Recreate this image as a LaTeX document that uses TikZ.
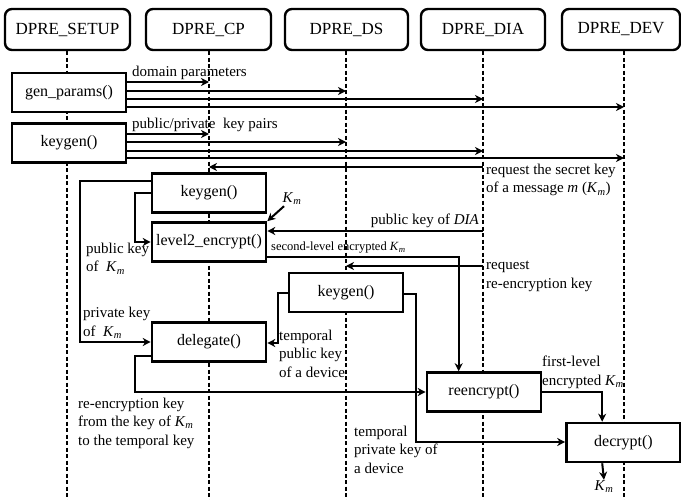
\documentclass[tikz,border=0pt]{standalone}
\usepackage{fontspec}
\setmainfont{Liberation Serif}
\usetikzlibrary{arrows.meta,calc}
\newcommand{\Km}{\textit{K}\textsubscript{\textit{m}}}
\newcommand{\hdrfont}{\fontsize{17}{20}\selectfont}
\newcommand{\boxfont}{\fontsize{16}{19}\selectfont}
\newcommand{\lblfont}{\fontsize{15}{18.2}\selectfont}
\newcommand{\smlfont}{\fontsize{12.5}{15}\selectfont}
\begin{document}
\begin{tikzpicture}[x=1pt,y=-1pt,
 hdr/.style={draw,line width=2.4pt,rounded corners=7pt,minimum height=41pt,inner sep=0pt,fill=white,font=\hdrfont},
 fbox/.style={draw,line width=2.6pt,fill=white,minimum width=114pt,minimum height=39pt,inner sep=0pt,font=\boxfont},
 life/.style={line width=1.4pt,dash pattern=on 4pt off 2.5pt},
 arr/.style={line width=2pt,-{Stealth[length=8pt,width=8pt,inset=2.5pt]}},
 lbl/.style={inner sep=0pt,font=\lblfont,align=left},
]
\useasboundingbox (0,0) rectangle (681,500);
% headers
\node[hdr,minimum width=125pt] (setup) at (67.5,29.5) {DPRE\_SETUP};
\node[hdr,minimum width=125pt] (cp) at (208.5,29.5) {DPRE\_CP};
\node[hdr,minimum width=123pt] (ds) at (346.5,29.5) {DPRE\_DS};
\node[hdr,minimum width=124pt] (dia) at (483,29.5) {DPRE\_DIA};
\node[hdr,minimum width=118pt] (dev) at (621,29.5) {DPRE\_DEV};
% lifelines
\coordinate (lsetup) at (67,500);
\coordinate (lcp) at (209,500);
\coordinate (lds) at (346,500);
\coordinate (ldia) at (483,500);
\coordinate (ldev) at (624,500);
\draw[life] (setup.south -| lsetup) -- (lsetup);
\draw[life] (cp.south -| lcp) -- (lcp);
\draw[life] (ds.south -| lds) -- (lds);
\draw[life] (dia.south -| ldia) -- (ldia);
\draw[life] (dev.south -| ldev) -- (ldev);
% setup boxes
\node[fbox] (gp) at (69,92.5) {gen\_params()};
\node[fbox] (kg) at (69,143) {keygen()};
\node[lbl,anchor=base west] (t1) at (132,77) {domain parameters};
\draw[arr] (gp.east|-0,82) -- (lcp|-0,82);
\draw[arr] (gp.east|-0,91) -- (lds|-0,91);
\draw[arr] (gp.east|-0,99) -- (ldia|-0,99);
\draw[arr] (gp.east|-0,107) -- (ldev|-0,107);
\node[lbl,anchor=base west] (t2) at (132,129) {public/private\ \ key pairs};
\draw[arr] (kg.east|-0,134) -- (lcp|-0,134);
\draw[arr] (kg.east|-0,142) -- (lds|-0,142);
\draw[arr] (kg.east|-0,151) -- (ldia|-0,151);
\draw[arr] (kg.east|-0,158) -- (ldev|-0,158);
% request secret key
\draw[arr] (ldia|-0,167) -- (lcp|-0,167);
\node[lbl,anchor=base west] (t3) at (486,193) {request the secret key\\of a message \textit{m} (\Km)};
% CP boxes
\node[fbox] (k1) at (209,193) {keygen()};
\node[fbox] (l2) at (209,242) {level2\_encrypt()};
\node[fbox] (dl) at (209,342) {delegate()};
\draw[arr] (k1.west|-0,181) -- (80,181) |- (dl.west|-0,342);
\draw[arr] (k1.west|-0,193) -- (135,193) |- (l2.west|-0,242);
\node[lbl,anchor=base west] (t4) at (86,272) {public key\\of \ \Km};
\node[lbl,anchor=base west] (t5) at (83,336) {private key\\of \ \Km};
\node[lbl,inner sep=1pt] (km1) at (292,199) {\Km};
\draw[arr] (km1) -- (l2.north east);
% DIA public key
\draw[arr] (ldia|-0,231) -- (l2.east|-0,231);
\node[lbl,anchor=base east] (t6) at (479,225) {public key of \textit{DIA}};
% reencrypt box
\node[fbox] (re) at (484,392) {reencrypt()};
\node[fbox] (dc) at (623.5,442.5) {decrypt()};
\draw[arr] (l2.east|-0,257) -| ($(re.north west)+(33,0)$);
\node[lbl,font=\smlfont,anchor=base west] (t7) at (271,251) {second-level encrypted \Km};
\draw[arr] (ldia|-0,266) -- (lds|-0,266);
\node[lbl,anchor=base west] (t8) at (486,288) {request\\re-encryption key};
% DS keygen
\node[fbox] (k2) at (346,292.5) {keygen()};
\draw[arr] (k2.west|-0,293) -- (278,293) |- (dl.east|-0,343);
\draw[arr] (k2.east|-0,294) -- (416,294) |- (dc.west|-0,442);
\node[lbl,anchor=base west] (t9) at (279,377) {temporal\\public key\\of a device};
\node[lbl,anchor=base west] (t10) at (354,473) {temporal\\private key of\\a device};
% delegate to reencrypt
\draw[arr] (dl.west|-0,356) -- (135,356) |- (re.west|-0,392);
\node[lbl,anchor=base west] (t11) at (78,445) {re-encryption key\\from the key of \Km\\to the temporal key};
% reencrypt to decrypt
\draw[arr] (re.east) -| ($(dc.north west)+(37,0)$);
\node[lbl,anchor=base west] (t12) at (542,385) {first-level\\encrypted \Km};
\node[lbl,inner sep=1pt] (km2) at (604,487) {\Km};
\draw[arr] ($(dc.south west)+(37,0)$) -- (km2.north);
\end{tikzpicture}
\end{document}
